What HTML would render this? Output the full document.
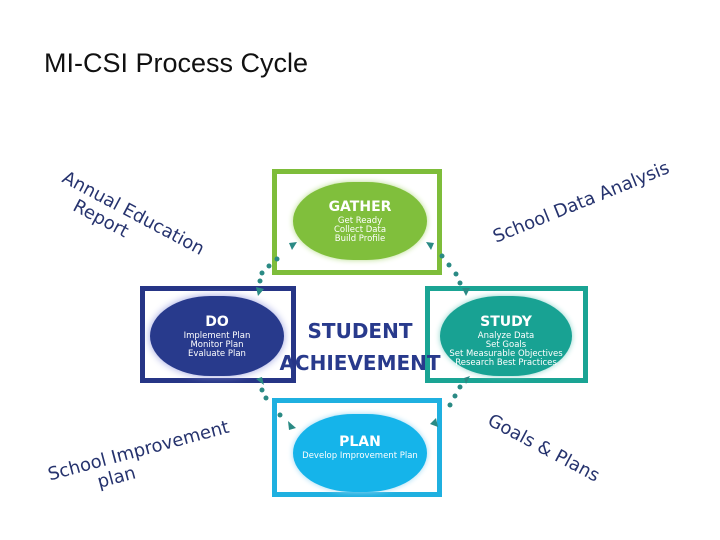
<!DOCTYPE html>
<html><head><style>
body{margin:0;width:720px;height:540px;background:#fff;position:relative;overflow:hidden;font-family:"DejaVu Sans","Liberation Sans",sans-serif}
.t{position:absolute;color:#26336e;font-size:18px;white-space:nowrap;transform-origin:0 0}
.box{position:absolute;box-sizing:border-box;border:5px solid}
.el{position:absolute;border-radius:45%/50%;color:#fff;text-align:center;font-size:8.5px;line-height:9px}
.el b{display:block;font-size:14px;line-height:16px;margin-bottom:2px}
</style></head><body>
<div style="position:absolute;left:44px;top:48px;font-family:'Liberation Sans',sans-serif;font-size:27px;color:#111">MI-CSI Process Cycle</div>

<div class="box" style="left:272px;top:169px;width:170px;height:106px;border-color:#7ebd3a"></div>
<div class="box" style="left:140px;top:286px;width:156px;height:97px;border-color:#263586"></div>
<div class="box" style="left:425px;top:286px;width:163px;height:97px;border-color:#1aa494"></div>
<div class="box" style="left:272px;top:398px;width:170px;height:99px;border-color:#1fb0e0"></div>

<div class="el" style="left:293px;top:182px;width:134px;height:78px;background:#80bf3c;box-shadow:0 0 6px #b7dd8a"><div style="padding-top:17px"><b>GATHER</b>Get Ready<br>Collect Data<br>Build Profile</div></div>
<div class="el" style="left:150px;top:296px;width:134px;height:80px;background:#283a8c;box-shadow:0 0 8px #9aa0e0"><div style="padding-top:18px"><b>DO</b>Implement Plan<br>Monitor Plan<br>Evaluate Plan</div></div>
<div class="el" style="left:440px;top:296px;width:132px;height:80px;background:#18a293;box-shadow:0 0 6px #8ad4cb"><div style="padding-top:18px"><b>STUDY</b>Analyze Data<br>Set Goals<br>Set Measurable Objectives<br>Research Best Practices</div></div>
<div class="el" style="left:293px;top:414px;width:134px;height:78px;background:#15b4ea;box-shadow:0 0 6px #9ad8f3"><div style="padding-top:20px"><b>PLAN</b>Develop Improvement Plan</div></div>

<svg width="720" height="540" style="position:absolute;left:0;top:0">
<g fill="#2a8a84">
<circle cx="277" cy="259" r="2.5"/><circle cx="269" cy="266" r="2.5"/><circle cx="262" cy="273" r="2.5"/><circle cx="260" cy="281" r="2.5"/>
<circle cx="442" cy="256" r="2.5"/><circle cx="449" cy="265" r="2.5"/><circle cx="456" cy="274" r="2.5"/><circle cx="460" cy="283" r="2.5"/>
<circle cx="262" cy="390" r="2.5"/><circle cx="266" cy="398" r="2.5"/><circle cx="280" cy="415" r="2.5"/>
<circle cx="460" cy="387" r="2.5"/><circle cx="455" cy="396" r="2.5"/><circle cx="450" cy="405" r="2.5"/>
<polygon points="289,243 297,242 292,250"/>
<polygon points="426,242 434,243 431,250"/>
<polygon points="256,287 264,289 258,296"/>
<polygon points="462,288 470,288 466,296"/>
<polygon points="256,379 262,377 264,385"/>
<polygon points="464,378 470,376 466,384"/>
<polygon points="288,421 296,428 289,430"/>
<polygon points="430,424 436,418 438,427"/>
</g>
</svg>

<div style="position:absolute;left:278px;top:315px;width:164px;text-align:center;color:#283a8c;font-weight:bold;font-size:20px;line-height:32px">STUDENT<br>ACHIEVEMENT</div>

<div class="t" style="left:68px;top:168px;transform:rotate(28deg);line-height:20px">Annual Education<br>&nbsp;&nbsp;&nbsp;&nbsp;Report</div>
<div class="t" style="left:490px;top:228px;transform:rotate(-22deg)">School Data Analysis</div>
<div class="t" style="left:46px;top:466px;transform:rotate(-15deg);line-height:20px">School Improvement<br>&nbsp;&nbsp;&nbsp;&nbsp;&nbsp;&nbsp;&nbsp;&nbsp;plan</div>
<div class="t" style="left:494px;top:410px;transform:rotate(28deg)">Goals &amp; Plans</div>
</body></html>
